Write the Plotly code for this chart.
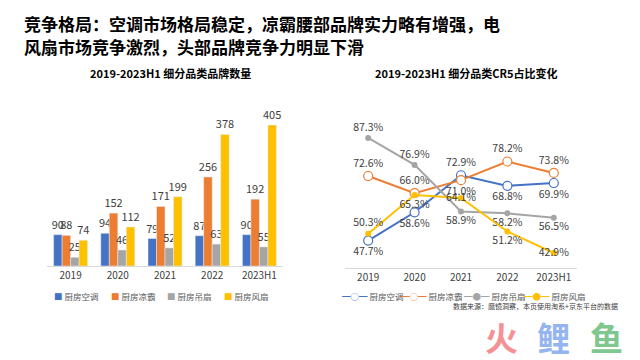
import plotly.graph_objects as go

# ---------------- data ----------------
categories = ["2019", "2020", "2021", "2022", "2023H1"]
series_names = ["厨房空调", "厨房凉霸", "厨房吊扇", "厨房风扇"]
colors = ["#4472C4", "#ED7D31", "#A5A5A5", "#FFC000"]

brand_ac = [90, 94, 79, 87, 90]
brand_liangba = [88, 152, 171, 256, 192]
brand_diaoshan = [25, 46, 52, 63, 55]
brand_fengshan = [74, 112, 199, 378, 405]

cr5_ac = [47.7, 58.6, 72.9, 68.8, 69.9]
cr5_liangba = [72.6, 66.0, 71.0, 78.2, 73.8]
cr5_diaoshan = [87.3, 76.9, 58.9, 58.2, 56.5]
cr5_fengshan = [50.3, 65.3, 64.1, 51.2, 42.9]

cr5_textpos = [
    ["bottom center", "bottom center", "top center", "bottom center", "bottom center"],
    ["top center", "top center", "bottom center", "top center", "top center"],
    ["top center", "top center", "bottom center", "bottom center", "bottom center"],
    ["top center", "bottom center", "middle center", "bottom center", "middle center"],
]

title_lines = ["竞争格局：空调市场格局稳定，凉霸腰部品牌实力略有增强，电",
               "风扇市场竞争激烈，头部品牌竞争力明显下滑"]
left_title = "2019-2023H1 细分品类品牌数量"
right_title = "2019-2023H1 细分品类CR5占比变化"
source_text = "数据来源：魔镜洞察，本页使用淘系+京东平台的数据"

W, H = 640, 360
def px(x):
    return x / W
def py(y):
    return 1 - y / H

FONT = "Noto Sans CJK SC"
TXT = "#404040"

fig = go.Figure()

bar_data = [brand_ac, brand_liangba, brand_diaoshan, brand_fengshan]
for name, vals, c in zip(series_names, bar_data, colors):
    fig.add_trace(go.Bar(
        x=categories, y=vals, name=name, marker_color=c,
        text=[str(v) for v in vals], textposition="outside",
        textfont=dict(size=11, color=TXT, family=FONT),
        constraintext="none",
        cliponaxis=False, showlegend=False,
        xaxis="x", yaxis="y",
    ))

line_data = [cr5_ac, cr5_liangba, cr5_diaoshan, cr5_fengshan]
for i, (name, vals, c) in enumerate(zip(series_names, line_data, colors)):
    open_marker = i < 2
    fig.add_trace(go.Scatter(
        x=categories, y=vals, name=name, mode="lines+markers+text",
        line=dict(color=c, width=2),
        marker=dict(size=9 if open_marker else 6,
                    color="white" if open_marker else c,
                    line=dict(color=c, width=1.2 if open_marker else 0)),
        text=[f"{v:.1f}%" for v in vals], textposition=cr5_textpos[i],
        textfont=dict(size=10.5, color=TXT, family=FONT),
        cliponaxis=False, showlegend=False,
        xaxis="x2", yaxis="y2",
    ))

def note(text, x, y, size, color, xanchor="center", bold=False, opacity=1.0):
    return dict(text=("<b>" + text + "</b>") if bold else text,
                x=px(x), y=py(y), xref="paper", yref="paper",
                xanchor=xanchor, yanchor="middle", showarrow=False,
                opacity=opacity,
                font=dict(size=size, color=color, family=FONT))

annotations = []
annotations.append(note(title_lines[0], 22, 23, 17, "#000000", "left", True))
annotations.append(note(title_lines[1], 22, 47, 17, "#000000", "left", True))
annotations.append(note(left_title, 170, 73, 11, "#000000", "center", True))
annotations.append(note(right_title, 466, 73, 11, "#000000", "center", True))

# legends (manual, compact)
left_leg_x = [52, 109, 165, 222]
for name, c, x in zip(series_names, colors, left_leg_x):
    annotations.append(note(f"<span style='color:{c}'>■</span> {name}", x, 296,
                            8.5, "#595959", "left"))
right_leg_x = [340, 399, 462, 522]
for i, (name, c, x) in enumerate(zip(series_names, colors, right_leg_x)):
    sym = "○" if i < 2 else "●"
    annotations.append(note(f"<span style='color:{c}'>━{sym}━</span> {name}", x, 296,
                            8.5, "#595959", "left"))

annotations.append(note(source_text, 620, 306, 7, "#404040", "right"))

# watermark
for ch, c, x in zip(["火", "鲤", "鱼"], ["#F4868A", "#8AAEF0", "#72C283"], [501, 553, 606]):
    annotations.append(note(ch, x, 337, 33, c, "center", True, 0.9))

fig.update_layout(
    width=W, height=H,
    margin=dict(l=0, r=0, t=0, b=0),
    paper_bgcolor="white", plot_bgcolor="white",
    barmode="group", bargap=0.28, bargroupgap=0,
    font=dict(family=FONT, color=TXT),
    xaxis=dict(domain=[px(47), px(283)], type="category", range=[-0.5, 4.5],
               showline=True, linecolor="#D9D9D9", linewidth=1, ticks="",
               showgrid=False, zeroline=False,
               tickfont=dict(size=10, color=TXT, family=FONT), anchor="y"),
    yaxis=dict(domain=[py(266), py(100)], range=[0, 477], visible=False,
               showgrid=False, zeroline=False, anchor="x"),
    xaxis2=dict(domain=[px(345), px(577)], type="category", range=[-0.5, 4.5],
                showline=True, linecolor="#D9D9D9", linewidth=1, ticks="",
                showgrid=False, zeroline=False,
                tickfont=dict(size=10, color=TXT, family=FONT), anchor="y2"),
    yaxis2=dict(domain=[py(268), py(90)], range=[37.1, 105.8], visible=False,
                showgrid=False, zeroline=False, anchor="x2"),
    annotations=annotations,
)

fig.write_html("out.html",
               config={"displayModeBar": False},
               post_script="document.body.style.margin='0';document.body.style.overflow='hidden';")
